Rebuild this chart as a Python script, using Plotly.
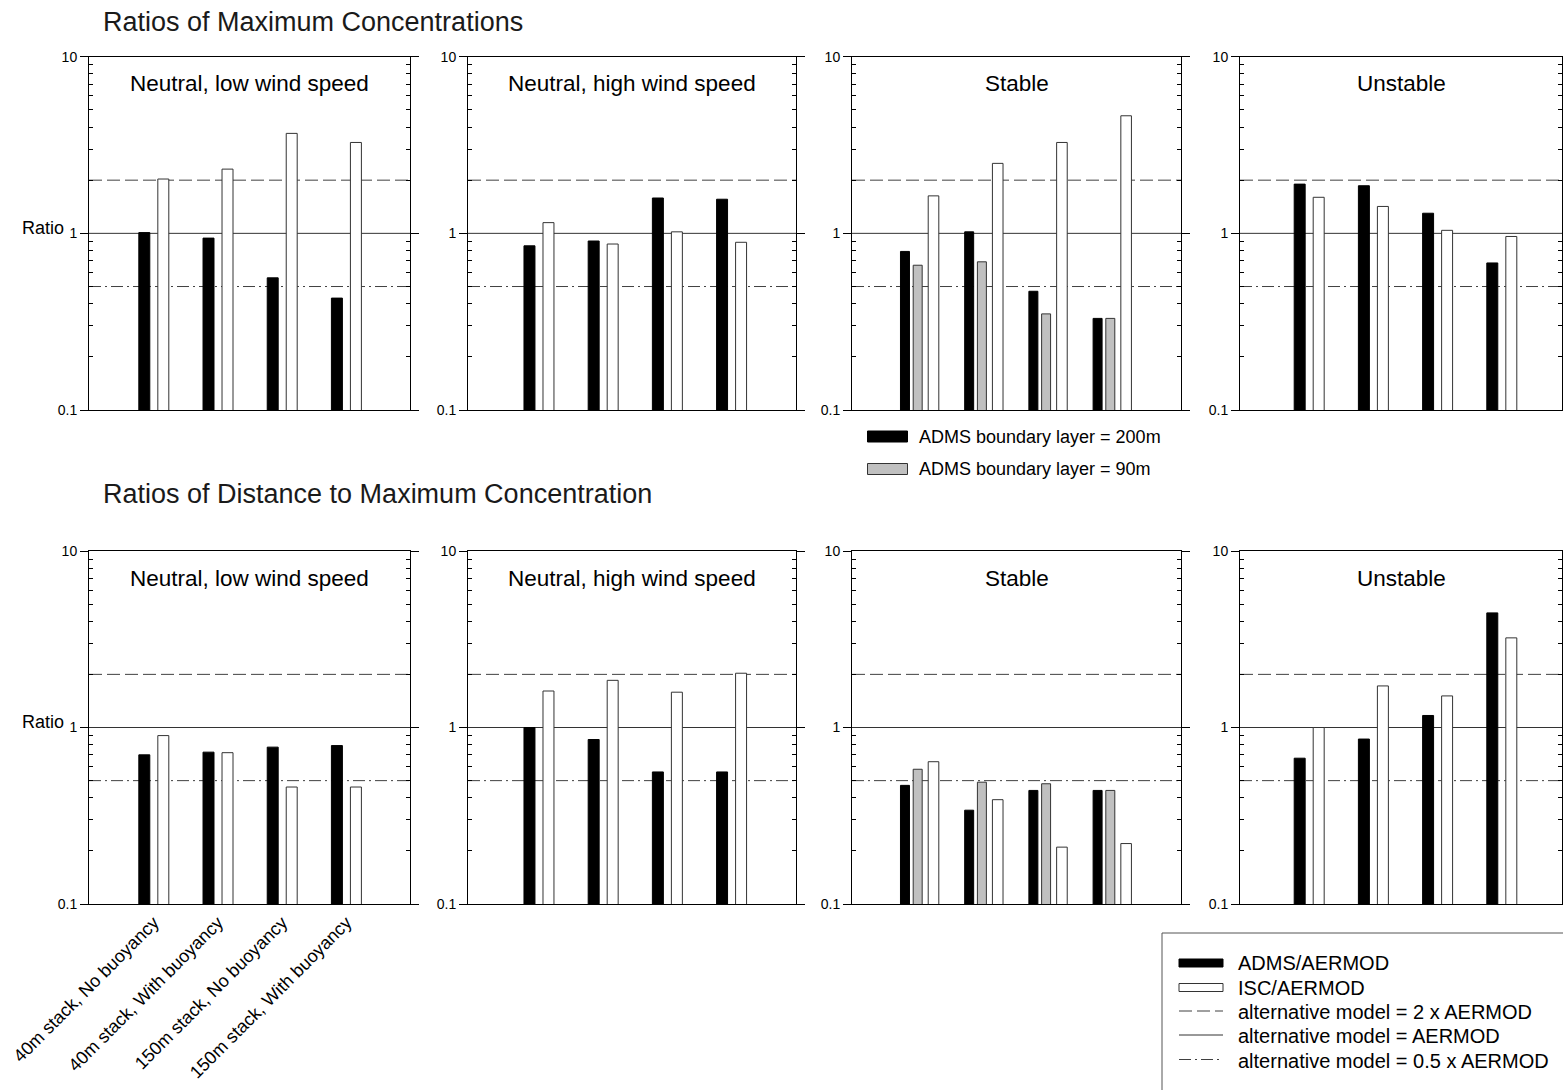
import plotly.graph_objects as go

# ---------------- data ----------------
CATEGORIES = ["40m stack, No buoyancy", "40m stack, With buoyancy",
              "150m stack, No buoyancy", "150m stack, With buoyancy"]
PANEL_TITLES = ["Neutral, low wind speed", "Neutral, high wind speed", "Stable", "Unstable"]
ROW_TITLES = ["Ratios of Maximum Concentrations", "Ratios of Distance to Maximum Concentration"]
REF_VALUES = [2, 1, 0.5]
Y_TICKS = [0.1, 1, 10]
Y_TICK_LABELS = ["0.1", "1", "10"]
Y_MINOR = [0.2, 0.3, 0.4, 0.5, 0.6, 0.7, 0.8, 0.9, 2, 3, 4, 5, 6, 7, 8, 9]

# Ratios of maximum concentrations
conc_low_adms = [1.01, 0.94, 0.56, 0.43]
conc_low_isc = [2.03, 2.31, 3.68, 3.27]
conc_high_adms = [0.85, 0.905, 1.585, 1.56]
conc_high_isc = [1.15, 0.87, 1.02, 0.89]
conc_stable_adms200 = [0.79, 1.02, 0.47, 0.33]
conc_stable_adms90 = [0.66, 0.69, 0.35, 0.33]
conc_stable_isc = [1.63, 2.49, 3.27, 4.63]
conc_unstable_adms = [1.90, 1.86, 1.30, 0.68]
conc_unstable_isc = [1.60, 1.42, 1.04, 0.96]

# Ratios of distance to maximum concentration
dist_low_adms = [0.70, 0.725, 0.774, 0.79]
dist_low_isc = [0.90, 0.72, 0.46, 0.46]
dist_high_adms = [1.0, 0.855, 0.56, 0.56]
dist_high_isc = [1.61, 1.85, 1.585, 2.03]
dist_stable_adms200 = [0.47, 0.34, 0.44, 0.44]
dist_stable_adms90 = [0.58, 0.49, 0.48, 0.44]
dist_stable_isc = [0.64, 0.39, 0.21, 0.22]
dist_unstable_adms = [0.67, 0.86, 1.17, 4.46]
dist_unstable_isc = [1.0, 1.72, 1.51, 3.22]

# ---------------- layout / style ----------------
W, H = 1563, 1090
FONT = "Arial, 'Liberation Sans', Helvetica, sans-serif"
PANEL_X_PX = [(89, 410), (468, 796), (852, 1181), (1240, 1562)]
ROW_Y_PX = [(56.7, 410), (551, 904)]
X_RANGES = [(-1.01, 3.99), (-1.106, 4.003), (-1.051, 4.073), (-1.078, 3.937)]

STYLE = {
    "adms": dict(color="black", line="black", offset=-0.234, width=0.171),
    "isc": dict(color="white", line="#333333", offset=0.062, width=0.171),
    "s_adms200": dict(color="black", line="black", offset=-0.296, width=0.14),
    "s_adms90": dict(color="#c0c0c0", line="#333333", offset=-0.098, width=0.14),
    "s_isc": dict(color="white", line="#333333", offset=0.136, width=0.165),
}
REF_STYLE = {
    2: dict(color="#404040", width=1, dash="13px,5px"),
    1: dict(color="#333333", width=1, dash="solid"),
    0.5: dict(color="#404040", width=1, dash="12px,4px,2px,4px"),
}

PANELS = [
    # row 0
    [("adms", conc_low_adms), ("isc", conc_low_isc)],
    [("adms", conc_high_adms), ("isc", conc_high_isc)],
    [("s_adms200", conc_stable_adms200), ("s_adms90", conc_stable_adms90), ("s_isc", conc_stable_isc)],
    [("adms", conc_unstable_adms), ("isc", conc_unstable_isc)],
    # row 1
    [("adms", dist_low_adms), ("isc", dist_low_isc)],
    [("adms", dist_high_adms), ("isc", dist_high_isc)],
    [("s_adms200", dist_stable_adms200), ("s_adms90", dist_stable_adms90), ("s_isc", dist_stable_isc)],
    [("adms", dist_unstable_adms), ("isc", dist_unstable_isc)],
]


def px_x(p):
    return p / W


def px_y(p):
    return 1 - p / H


fig = go.Figure()
layout = dict(
    width=W, height=H, template="none",
    margin=dict(l=0, r=0, t=0, b=0, pad=0),
    paper_bgcolor="white", plot_bgcolor="white",
    barmode="overlay", showlegend=False,
    font=dict(family=FONT, color="black"),
)
shapes = []
annotations = []

for idx, series in enumerate(PANELS):
    row, col = divmod(idx, 4)
    n = idx + 1
    xa = "x" if n == 1 else f"x{n}"
    ya = "y" if n == 1 else f"y{n}"
    for key, vals in series:
        st = STYLE[key]
        fig.add_trace(go.Bar(
            x=CATEGORIES, y=vals, xaxis=xa, yaxis=ya,
            offset=st["offset"], width=st["width"],
            marker=dict(color=st["color"], line=dict(color=st["line"], width=1)),
            hoverinfo="x+y",
        ))
    x0, x1 = PANEL_X_PX[col]
    y0, y1 = ROW_Y_PX[row]
    show_x_labels = (row == 1 and col == 0)
    layout["xaxis" if n == 1 else f"xaxis{n}"] = dict(
        domain=[px_x(x0), min(1.0, px_x(x1))], anchor=ya,
        type="category", categoryorder="array", categoryarray=CATEGORIES,
        range=list(X_RANGES[col]), showgrid=False, zeroline=False,
        showline=True, linecolor="black", linewidth=1, mirror=True,
        ticks="", showticklabels=show_x_labels, tickangle=-45,
        tickfont=dict(family=FONT, size=18, color="black"),
        automargin=False, layer="below traces",
    )
    layout["yaxis" if n == 1 else f"yaxis{n}"] = dict(
        domain=[px_y(y1), px_y(y0)], anchor=xa,
        type="log", range=[-1, 1], showgrid=False, zeroline=False,
        showline=True, linecolor="black", linewidth=1, mirror="ticks",
        tickmode="array", tickvals=Y_TICKS, ticktext=Y_TICK_LABELS,
        ticks="outside", ticklen=8, tickcolor="black",
        tickfont=dict(family=FONT, size=14, color="black"),
        minor=dict(tickmode="array", tickvals=Y_MINOR, ticks="inside",
                   ticklen=4, tickcolor="black", showgrid=False),
        automargin=False,
    )
    for v in REF_VALUES:
        shapes.append(dict(type="line", xref=f"{xa} domain", yref=ya,
                           x0=0, x1=1, y0=v, y1=v, layer="below",
                           line=REF_STYLE[v]))
    annotations.append(dict(text=PANEL_TITLES[col], xref=f"{xa} domain", yref=f"{ya} domain",
                            x=0.5, y=0.923, xanchor="center", yanchor="middle",
                            showarrow=False, font=dict(family=FONT, size=22.5, color="black")))

# row titles and "Ratio" labels
for r, (title, ty, ry) in enumerate(zip(ROW_TITLES, [22, 494], [228, 722])):
    annotations.append(dict(text=title, xref="paper", yref="paper", x=px_x(101), y=px_y(ty),
                            xanchor="left", yanchor="middle", showarrow=False,
                            font=dict(family=FONT, size=27, color="#1a1a1a")))
    annotations.append(dict(text="Ratio", xref="paper", yref="paper", x=px_x(20), y=px_y(ry),
                            xanchor="left", yanchor="middle", showarrow=False,
                            font=dict(family=FONT, size=18, color="black")))

# boundary-layer legend under top Stable panel
BL_LEGEND = [("ADMS boundary layer = 200m", "black", "black", 436.5),
             ("ADMS boundary layer = 90m", "#c0c0c0", "#333333", 469)]
for text, fill, edge, cy in BL_LEGEND:
    shapes.append(dict(type="rect", xref="paper", yref="paper",
                       x0=px_x(867.5), x1=px_x(907.5), y0=px_y(cy - 5.5), y1=px_y(cy + 5.5),
                       fillcolor=fill, line=dict(color=edge, width=1)))
    annotations.append(dict(text=text, xref="paper", yref="paper", x=px_x(917), y=px_y(cy),
                            xanchor="left", yanchor="middle", showarrow=False,
                            font=dict(family=FONT, size=18, color="black")))

# main legend box (bottom right)
shapes.append(dict(type="rect", xref="paper", yref="paper",
                   x0=px_x(1162), x1=1.02, y0=px_y(933), y1=-0.02,
                   fillcolor="rgba(0,0,0,0)", line=dict(color="#555555", width=1)))
MAIN_LEGEND = [
    ("ADMS/AERMOD", "bar", STYLE["adms"], 963),
    ("ISC/AERMOD", "bar", STYLE["isc"], 987.5),
    ("alternative model = 2 x AERMOD", "line", REF_STYLE[2], 1012),
    ("alternative model = AERMOD", "line", REF_STYLE[1], 1036),
    ("alternative model = 0.5 x AERMOD", "line", REF_STYLE[0.5], 1060.5),
]
for text, kind, st, cy in MAIN_LEGEND:
    if kind == "bar":
        shapes.append(dict(type="rect", xref="paper", yref="paper",
                           x0=px_x(1179), x1=px_x(1223), y0=px_y(cy - 4), y1=px_y(cy + 4),
                           fillcolor=st["color"], line=dict(color=st["line"], width=1)))
    else:
        shapes.append(dict(type="line", xref="paper", yref="paper",
                           x0=px_x(1179), x1=px_x(1223), y0=px_y(cy - 1), y1=px_y(cy - 1),
                           line=st))
    annotations.append(dict(text=text, xref="paper", yref="paper", x=px_x(1236), y=px_y(cy),
                            xanchor="left", yanchor="middle", showarrow=False,
                            font=dict(family=FONT, size=20, color="black")))

layout["shapes"] = shapes
layout["annotations"] = annotations
fig.update_layout(**layout)
fig.write_html("out.html",
               config={"displayModeBar": False},
               post_script="document.body.style.margin='0';document.body.style.overflow='hidden';")
